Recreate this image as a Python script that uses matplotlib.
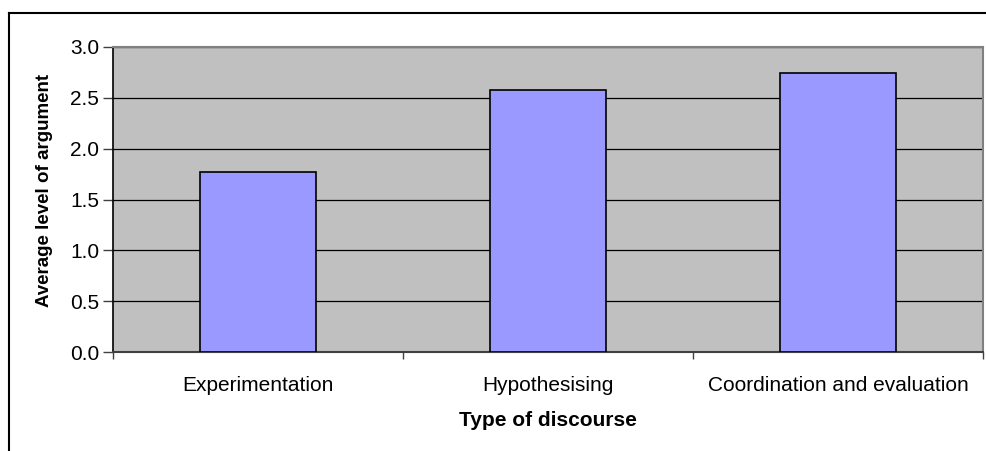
import matplotlib
matplotlib.use("Agg")
import matplotlib.pyplot as plt
from matplotlib.lines import Line2D
import numpy as np

categories = ["Experimentation", "Hypothesising", "Coordination and evaluation"]
values = [1.77, 2.58, 2.74]
yticks = [0.0, 0.5, 1.0, 1.5, 2.0, 2.5, 3.0]

plt.rcParams['font.family'] = ['Liberation Sans', 'DejaVu Sans']

fig = plt.figure(figsize=(9.87, 4.51), dpi=100)
ax = fig.add_axes([113/987, 1-352/451, (983-113)/987, (352-47)/451])
ax.set_facecolor('#C0C0C0')

x = np.arange(len(categories))
ax.bar(x, values, width=0.4, color='#9999FF', edgecolor='black', linewidth=1.2, zorder=3)

ax.set_xlim(-0.5, len(categories) - 0.5)
ax.set_ylim(0, 3.0)
ax.set_yticks(yticks)
ax.set_yticklabels([f"{v:.1f}" for v in yticks], fontsize=15)
ax.yaxis.grid(True, color='black', linewidth=0.9, zorder=1)
ax.set_axisbelow(True)

ax.set_xticks(x)
ax.set_xticklabels(categories, fontsize=15)
ax.set_xticks(np.arange(-0.5, len(categories)), minor=True)
ax.tick_params(axis='x', which='major', length=0, pad=17)
ax.tick_params(axis='x', which='minor', length=5, width=1, color='#404040')
ax.tick_params(axis='y', length=7, width=1, color='#404040', pad=3)

for s in ['top', 'right']:
    ax.spines[s].set_color('#808080')
    ax.spines[s].set_linewidth(1.5)
ax.spines['left'].set_color('black')
ax.spines['left'].set_linewidth(1.2)
ax.spines['bottom'].set_color('#404040')
ax.spines['bottom'].set_linewidth(1.5)

ax.set_ylabel("Average level of argument", fontsize=13.5, fontweight='bold')
ax.yaxis.set_label_coords(-0.069, 0.53)
ax.set_xlabel("Type of discourse", fontsize=15, fontweight='bold', labelpad=12)

# outer chart border (top and left visible)
fig.add_artist(Line2D([9/987, 1.0], [1-13/451, 1-13/451], color='black', linewidth=1.5, transform=fig.transFigure))
fig.add_artist(Line2D([9/987, 9/987], [0.0, 1-13/451], color='black', linewidth=1.5, transform=fig.transFigure))

fig.savefig("out.png", dpi=100)
